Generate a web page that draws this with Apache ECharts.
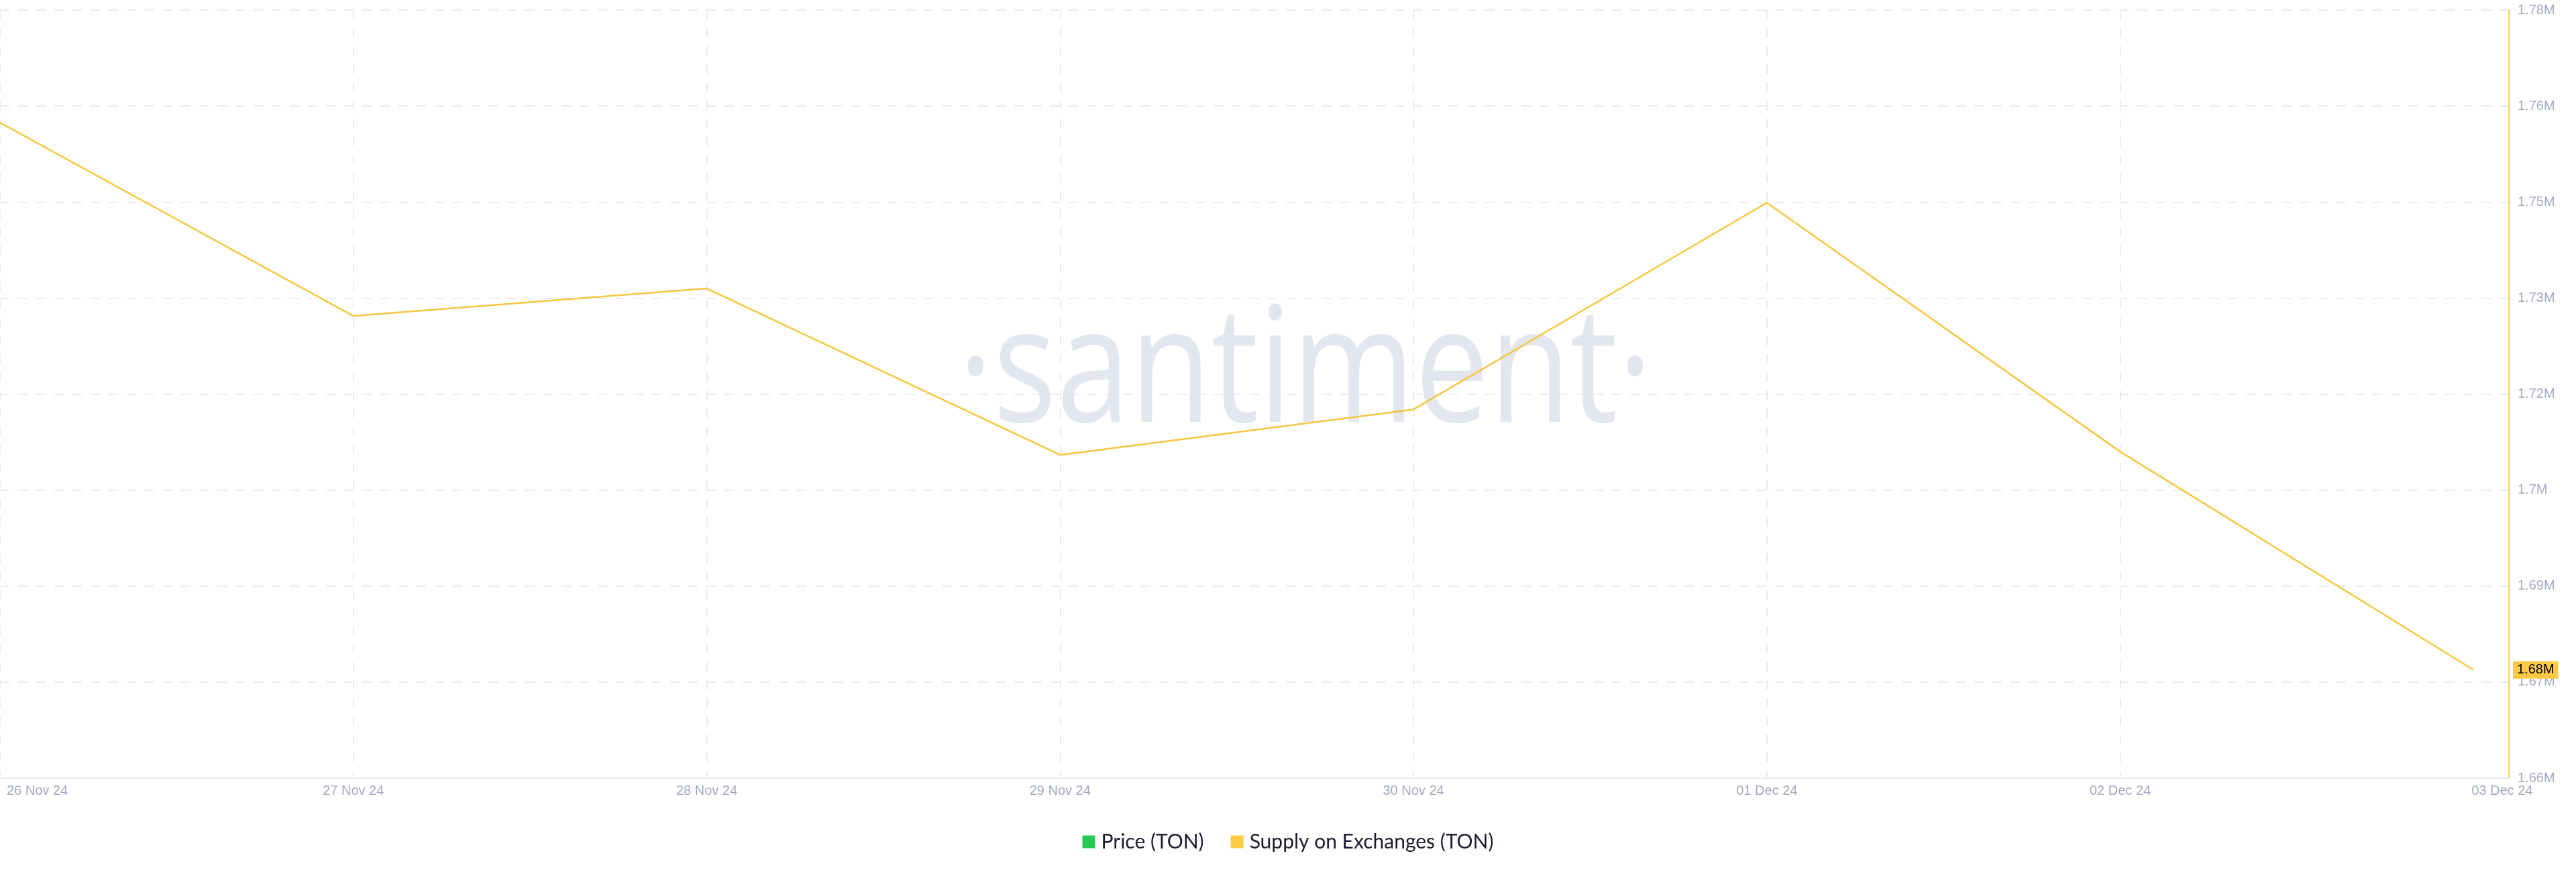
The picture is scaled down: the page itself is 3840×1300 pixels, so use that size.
<!DOCTYPE html>
<html>
<head>
<meta charset="utf-8">
<script src="https://cdn.jsdelivr.net/npm/echarts@6/dist/echarts.min.js"></script>
<style>
  html, body { margin: 0; padding: 0; background: #ffffff; }
  #chart { width: 3840px; height: 1300px; }
</style>
</head>
<body>
<div id="chart"></div>
<script>
// ---- data ----
const dates = ['26 Nov 24', '27 Nov 24', '28 Nov 24', '29 Nov 24', '30 Nov 24', '01 Dec 24', '02 Dec 24', '03 Dec 24'];
const supplyOnExchanges = [1762400, 1732200, 1736500, 1710500, 1717600, 1749900, 1711000, 1676900];
const priceTON = []; // listed in legend only, no line drawn in the reference
const seriesNames = ['Price (TON)', 'Supply on Exchanges (TON)'];
const gridDays = [0, 1, 2, 3, 4, 5, 6];          // days with a vertical grid line
const labelDays = [0, 1, 2, 3, 4, 5, 6, 7];      // days with a date label
const yMin = 1660000, yMax = 1780000, yStep = 15000;
const xMax = 7.1;

const labelColor = '#a3a8c2';
const axisFont = 'Liberation Sans, Arial, sans-serif';

const chart = echarts.init(document.getElementById('chart'));
const lastIdx = supplyOnExchanges.length - 1;

chart.setOption({
  animation: false,
  backgroundColor: '#ffffff',
  graphic: [{
    type: 'text',
    x: 1946,
    y: 560,
    scaleX: 0.82,
    z: -10,
    silent: true,
    style: {
      text: '·santiment·',
      font: '241px "Open Sans"',
      fill: '#e3e6ef',
      textAlign: 'center',
      textVerticalAlign: 'middle'
    }
  }],
  legend: {
    data: seriesNames,
    left: 'center',
    top: 1235,
    icon: 'rect',
    itemWidth: 19,
    itemHeight: 19,
    itemGap: 40,
    textStyle: { fontFamily: 'Lato', fontSize: 30, color: '#1c1d2e', padding: [0, 0, 0, 4] }
  },
  grid: { left: 0, right: 100, top: 15, bottom: 140, containLabel: false },
  xAxis: {
    type: 'value',
    min: 0,
    max: xMax,
    interval: 1,
    axisLine: { show: true, onZero: false, lineStyle: { color: '#e8e8ed', width: 2 } },
    axisTick: { show: false, customValues: gridDays },
    splitLine: { show: true, lineStyle: { color: '#e4e4ea', width: 1.5, type: [14, 13] } },
    axisLabel: {
      customValues: labelDays,
      margin: 9,
      fontSize: 20,
      fontFamily: axisFont,
      color: labelColor,
      formatter: function (v) {
        if (Math.abs(v - Math.round(v)) > 1e-6) return '';
        const i = Math.round(v);
        if (i === 0) return '{first|' + dates[i] + '}';
        if (i === dates.length - 1) return '{last|' + dates[i] + '}';
        return dates[i] || '';
      },
      rich: {
        first: { padding: [0, 0, 0, 111], fontSize: 20, fontFamily: axisFont, color: labelColor },
        last: { padding: [0, 0, 0, 85], fontSize: 20, fontFamily: axisFont, color: labelColor }
      }
    }
  },
  yAxis: {
    type: 'value',
    position: 'right',
    min: yMin,
    max: yMax,
    interval: yStep,
    axisLine: { show: true, onZero: false, lineStyle: { color: '#f2cf5a', width: 2 } },
    axisTick: { show: false },
    splitLine: { show: true, lineStyle: { color: '#e4e4ea', width: 1.5, type: [14, 13] } },
    axisLabel: {
      margin: 13,
      fontSize: 20,
      fontFamily: axisFont,
      color: labelColor,
      formatter: function (v) {
        const t = Math.floor(v / 1e4 + 1e-6) / 100;
        return t + 'M';
      }
    }
  },
  series: [
    {
      name: seriesNames[0],
      type: 'line',
      data: priceTON,
      itemStyle: { color: '#26c953' },
      lineStyle: { color: '#26c953' },
      showSymbol: false
    },
    {
      name: seriesNames[1],
      type: 'line',
      data: supplyOnExchanges.map((v, i) => [i, v]),
      itemStyle: { color: '#ffcb47' },
      lineStyle: { color: '#f7c63f', width: 2.5 },
      showSymbol: false,
      symbol: 'none',
      z: 3,
      markPoint: {
        symbol: 'rect',
        symbolSize: 0,
        silent: true,
        data: [{
          coord: [xMax, supplyOnExchanges[lastIdx]],
          value: supplyOnExchanges[lastIdx],
          label: {
            show: true,
            position: 'right',
            distance: 6,
            formatter: function (p) { return (p.value / 1e6).toFixed(2) + 'M'; },
            backgroundColor: '#ffcb47',
            color: '#000000',
            fontSize: 20,
            fontFamily: axisFont,
            padding: [3, 6, 3, 6]
          }
        }]
      }
    }
  ]
});
</script>
</body>
</html>
